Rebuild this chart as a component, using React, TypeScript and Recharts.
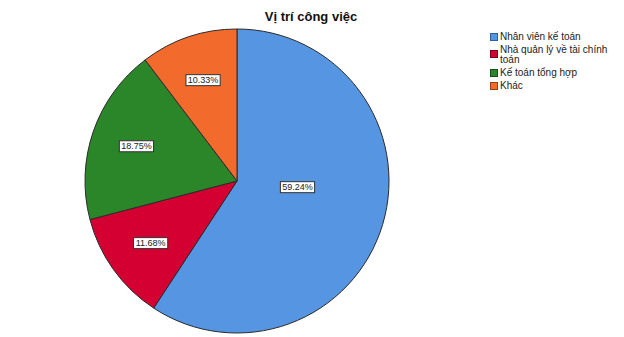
import React from "react";
import { PieChart, Pie, Cell } from "recharts";

const categories = [
  "Nhân viên kế toán",
  "Nhà quản lý về tài chính toán",
  "Kế toán tổng hợp",
  "Khác",
];
const shares = [59.24, 11.68, 18.75, 10.33];
const colors = ["#5595E2", "#D50032", "#2B8629", "#F36A2D"];
const borders = ["#2f5f9e", "#7a0020", "#17501a", "#9a3f14"];

const data = categories.map((name, i) => ({ name, value: shares[i] }));

const RAD = Math.PI / 180;

const renderLabel = (props: any) => {
  const { cx, cy, midAngle, outerRadius, percent, value } = props;
  const r = percent > 0.5 ? outerRadius * 0.4 : outerRadius * 0.7;
  // big slices: SPSS pulls the label toward the horizontal
  const a = percent > 0.5 ? midAngle * 0.35 : midAngle;
  const x = cx + r * Math.cos(-a * RAD);
  const y = cy + r * Math.sin(-a * RAD);
  const text = `${value.toFixed(2)}%`;
  const w = text.length * 5.2 + 3;
  return (
    <g>
      <rect
        x={x - w / 2}
        y={y - 5.5}
        width={w}
        height={11}
        fill="#ffffff"
        stroke="#333333"
        strokeWidth={1}
      />
      <text
        x={x}
        y={y}
        textAnchor="middle"
        dominantBaseline="central"
        fontSize={9}
        fill="#222"
        fontFamily="'Liberation Sans', Arial, sans-serif"
      >
        {text}
      </text>
    </g>
  );
};

export default function App() {
  return (
    <div
      style={{
        position: "absolute",
        left: 0,
        top: 0,
        width: 624,
        height: 337,
        background: "#fff",
        fontFamily: "'Liberation Sans', Arial, sans-serif",
      }}
    >
      <div
        style={{
          position: "absolute",
          left: 211,
          width: 200,
          top: 9,
          textAlign: "center",
          fontSize: 13,
          fontWeight: "bold",
          color: "#111",
        }}
      >
        Vị trí công việc
      </div>
      <PieChart
        width={624}
        height={337}
        margin={{ top: 0, right: 0, bottom: 0, left: 0 }}
      >
        <Pie
          data={data}
          dataKey="value"
          nameKey="name"
          cx={237}
          cy={181}
          outerRadius={152}
          startAngle={90}
          endAngle={-270}
          stroke="#2b2b2b"
          strokeWidth={1}
          label={renderLabel}
          labelLine={false}
          isAnimationActive={false}
        >
          {data.map((d, i) => (
            <Cell key={d.name} fill={colors[i]} />
          ))}
        </Pie>
      </PieChart>
      <div
        style={{
          position: "absolute",
          left: 490,
          top: 32,
          width: 128,
          fontSize: 10,
          color: "#222",
        }}
      >
        {categories.map((c, i) => (
          <div
            key={c}
            style={{
              display: "flex",
              alignItems: "flex-end",
              marginBottom: 3,
              lineHeight: "10px",
            }}
          >
            <span
              style={{
                display: "inline-block",
                flex: "0 0 auto",
                width: 6,
                height: 6,
                background: colors[i],
                border: `1px solid ${borders[i]}`,
                marginRight: 2,
                marginBottom: i === 1 ? 7 : 1,
              }}
            />
            <span>{c}</span>
          </div>
        ))}
      </div>
    </div>
  );
}
